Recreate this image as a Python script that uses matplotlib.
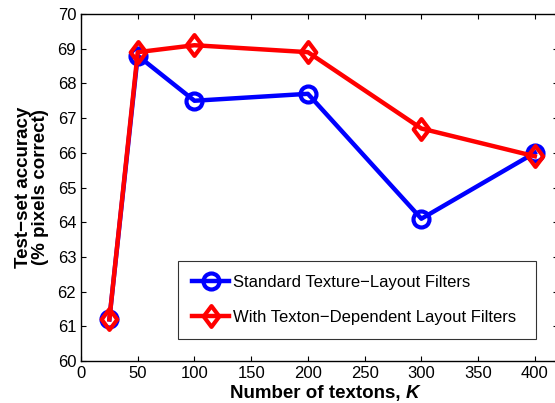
import matplotlib
matplotlib.use("Agg")
import matplotlib.pyplot as plt
from matplotlib.path import Path

textons = [25, 50, 100, 200, 300, 400]
standard = [61.2, 68.8, 67.5, 67.7, 64.1, 66.0]
dependent = [61.2, 68.9, 69.1, 68.9, 66.7, 65.9]
xticks = [0, 50, 100, 150, 200, 250, 300, 350, 400]
yticks = [60, 61, 62, 63, 64, 65, 66, 67, 68, 69, 70]

plt.rcParams['font.family'] = ['Liberation Sans', 'DejaVu Sans']

diamond = Path([(0, 1), (0.75, 0), (0, -1), (-0.75, 0), (0, 1)],
               [Path.MOVETO, Path.LINETO, Path.LINETO, Path.LINETO, Path.CLOSEPOLY])

fig = plt.figure(figsize=(5.55, 4.03), dpi=100)
ax = fig.add_axes([81/555, 42/403, (557.5-81)/555, (361-14)/403])

ax.plot(textons, standard, color=(0, 0, 1), lw=3.2, marker='o', ms=11.5,
        mew=3, mfc='none', label='Standard Texture\u2212Layout Filters')
ax.plot(textons, dependent, color=(1, 0, 0), lw=3.2, marker=diamond, ms=15,
        mew=3, mfc='none', label='With Texton\u2212Dependent Layout Filters')

ax.set_xlim(0, 420)
ax.set_ylim(60, 70)
ax.set_xticks(xticks)
ax.set_yticks(yticks)
ax.tick_params(direction='in', top=True, right=True, labelsize=12, length=3.5,
               width=0.8, pad=3.5)
for s in ax.spines.values():
    s.set_linewidth(1.0)

ax.text(0.681, -0.1066, 'Number of textons, ', transform=ax.transAxes,
        fontsize=13.5, fontweight='bold', ha='right', va='baseline')
ax.text(0.681, -0.1066, 'K', transform=ax.transAxes, fontsize=13.5,
        fontweight='bold', style='italic', ha='left', va='baseline')

ax.set_ylabel('Test\u2212set accuracy\n(% pixels correct)', fontsize=13.5,
              fontweight='bold', labelpad=6, linespacing=1.0)

leg = ax.legend(loc='lower left', bbox_to_anchor=(0.204, 0.063, 0.751, 0.228),
                mode='expand', fontsize=12, frameon=True, fancybox=False,
                edgecolor='black', handlelength=2.2, handletextpad=0.25,
                borderaxespad=0, labelspacing=1.2, borderpad=0.85)
leg.get_frame().set_linewidth(0.8)

fig.savefig('out.png', dpi=100)
